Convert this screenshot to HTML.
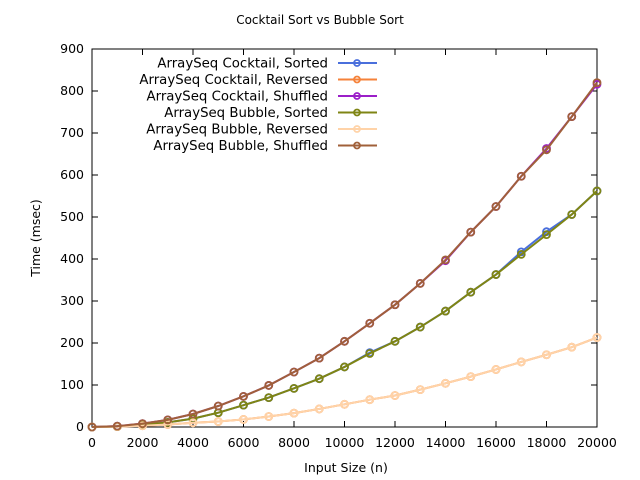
<!DOCTYPE html>
<html><head><meta charset="utf-8"><style>
body{margin:0;background:#fff}
svg{display:block;font-family:"DejaVu Sans","Liberation Sans",sans-serif;font-size:12.5px}
</style></head><body>
<svg id="c" width="640" height="480">
<text x="320" y="24" text-anchor="middle" font-size="12">Cocktail Sort vs Bubble Sort</text>
<text x="346" y="472" text-anchor="middle">Input Size (n)</text>
<text transform="translate(40,238) rotate(-90)" text-anchor="middle">Time (msec)</text>
<g id="axes"></g><g id="series"></g><g id="legend"></g>
</svg>
<script>
const xValues=[0,1000,2000,3000,4000,5000,6000,7000,8000,9000,10000,11000,12000,13000,14000,15000,16000,17000,18000,19000,20000];
const cocktailSorted=[0,1,5,11,20,34,52,70,92,115,143,177,204,238,276,321,363,417,465,506,562];
const cocktailReversed=[0,1,3,6,10,13,18,25,33,43,54,65,75,89,104,120,137,155,172,190,213];
const cocktailShuffled=[0,2,8,17,31,50,73,99,131,164,204,247,291,342,396,464,525,597,663,739,816];
const bubbleSorted=[0,1,5,11,20,34,52,70,92,115,143,175,204,238,276,321,363,411,458,506,562];
const bubbleReversed=[0,1,3,6,10,13,18,25,33,43,54,65,75,89,104,120,137,155,172,190,213];
const bubbleShuffled=[0,2,8,17,31,50,73,99,131,164,204,247,291,342,398,464,525,597,660,739,820];
const seriesNames=["ArraySeq Cocktail, Sorted","ArraySeq Cocktail, Reversed","ArraySeq Cocktail, Shuffled","ArraySeq Bubble, Sorted","ArraySeq Bubble, Reversed","ArraySeq Bubble, Shuffled"];
const xTicks=[0,2000,4000,6000,8000,10000,12000,14000,16000,18000,20000];
const yTicks=[0,100,200,300,400,500,600,700,800,900];
const NS="http://www.w3.org/2000/svg";
const L=92,R=597,T=49,B=427;
const sx=v=>L+(v/20000)*(R-L), sy=v=>B-(v/900)*(B-T);
function mk(tag,attrs,parent){const e=document.createElementNS(NS,tag);for(const k in attrs)e.setAttribute(k,attrs[k]);parent.appendChild(e);return e;}
const ax=document.getElementById('axes');
const frame=mk('rect',{x:L,y:T,width:R-L,height:B-T,fill:'none',stroke:'#000','stroke-width':1},ax);


xTicks.forEach(v=>{const x=sx(v);
 mk('line',{x1:x,x2:x,y1:B,y2:B-6,stroke:'#000'},ax);
 mk('line',{x1:x,x2:x,y1:T,y2:T+6,stroke:'#000'},ax);
 const t=mk('text',{x:x,y:B+20,'text-anchor':'middle'},ax);t.textContent=v;
 
 });
yTicks.forEach(v=>{const y=sy(v);
 mk('line',{x1:L,x2:L+6,y1:y,y2:y,stroke:'#000'},ax);
 mk('line',{x1:R,x2:R-6,y1:y,y2:y,stroke:'#000'},ax);
 const t=mk('text',{x:L-8,y:y+4,'text-anchor':'end'},ax);t.textContent=v;
 
 });
const data=[cocktailSorted,cocktailReversed,cocktailShuffled,bubbleSorted,bubbleReversed,bubbleShuffled];
const colors=["#4a6fdc","#f5823a","#9b1fc8","#7f8514","#ffd3a8","#a0603a"];
const sg=document.getElementById('series'),lg=document.getElementById('legend');
data.forEach((arr,i)=>{
 const g=mk('g',{},sg);
 
 
 mk('polyline',{points:arr.map((v,j)=>sx(xValues[j])+','+sy(v)).join(' '),fill:'none',stroke:colors[i],'stroke-width':2},g);
 arr.forEach((v,j)=>{const c=mk('circle',{cx:sx(xValues[j]),cy:sy(v),r:3.5,fill:'none',stroke:colors[i],'stroke-width':1.8},g);
  
  });
 const y=63+i*16.5;
 const le=mk('g',{},lg);
 
 
 const t=mk('text',{x:328,y:y+4.5,'text-anchor':'end','font-size':13.3},le);t.textContent=seriesNames[i];
 mk('line',{x1:338,x2:377,y1:y,y2:y,stroke:colors[i],'stroke-width':2},le);
 mk('circle',{cx:357,cy:y,r:3,fill:'none',stroke:colors[i],'stroke-width':1.8},le);
});
</script>
</body></html>
